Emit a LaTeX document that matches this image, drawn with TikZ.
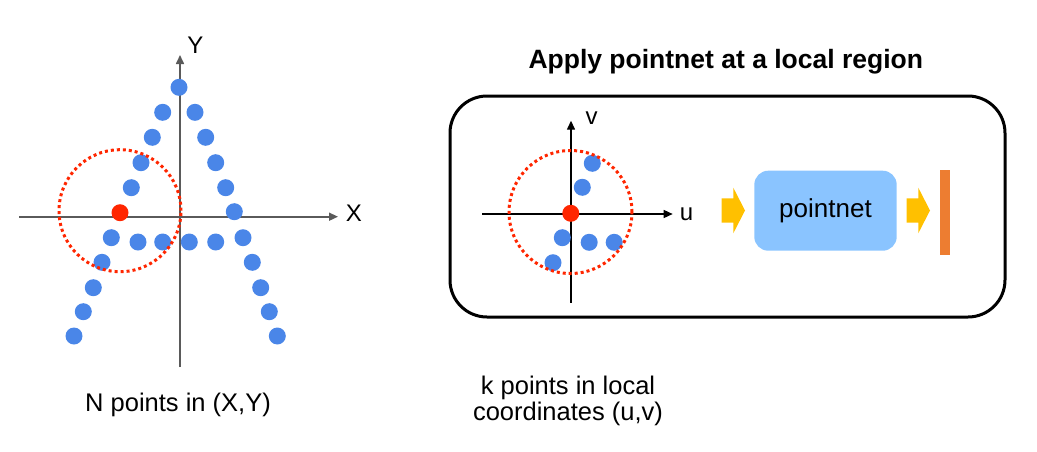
\documentclass[tikz,border=0pt]{standalone}
\usepackage{fontspec}
\setmainfont{Liberation Sans}
\usepackage{xcolor}
\usepackage{tikz}
\usetikzlibrary{arrows.meta, positioning}
\definecolor{ptblue}{HTML}{4A86E8}
\definecolor{ptred}{HTML}{FF2600}
\definecolor{netblue}{HTML}{8AC4FF}
\definecolor{flowyellow}{HTML}{FFC000}
\definecolor{featorange}{HTML}{ED7D31}
\definecolor{axisgray}{HTML}{5A5A5A}

\begin{document}
\begin{tikzpicture}[x=1pt, y=-1pt,
    bdot/.style={circle, fill=ptblue, minimum size=17pt, inner sep=0pt},
    rdot/.style={circle, fill=ptred, minimum size=17pt, inner sep=0pt},
    ring/.style={circle, draw=ptred, line width=3pt, dash pattern=on 3pt off 3pt, inner sep=0pt, outer sep=0pt},
    axis/.style={-{Triangle[length=9pt, width=8pt]}, line width=1.6pt},
    lbl/.style={font=\fontsize{24}{24}\selectfont, inner sep=0pt},
    captxt/.style={font=\fontsize{25.5}{25.7}\selectfont, inner sep=0pt, align=center}
]
    \useasboundingbox (0,0) rectangle (1037,451);

    % global frame (X,Y)
    \coordinate (xl) at (19,216.7);
    \coordinate (xr) at (338,216.7);
    \coordinate (yb) at (180,367);
    \coordinate (yt) at (180,55);
    \draw[axis, color=axisgray] (xl) -- (xr);
    \draw[axis, color=axisgray] (yb) -- (yt);
    \node[lbl] (xlab) at (354,213.3) {X};
    \node[lbl] (ylab) at (195.5,45) {Y};

    \foreach \px/\py [count=\i] in {179/87.3, 162.7/112.3, 195/112.3, 152.3/137.3, 205.7/137.3,
        141/162.7, 215.7/162.7, 131.3/187.7, 225.7/187.7, 234.3/211.7, 111.3/237.7, 138/242,
        162.7/242, 189.3/242, 215.7/242, 243/237.7, 102/262.3, 252.3/262.3, 93.3/287.7,
        260.7/287.7, 83.3/311.7, 269.3/311.7, 74/336, 277.3/336}
        \node[bdot] (g\i) at (\px,\py) {};

    \node[ring, minimum size=122pt] (gring) at (120,210.7) {};
    \node[rdot] (gctr) at (120,212.7) {};

    \node[captxt, anchor=base] (gcap) at (178,411.7) {N points in (X,Y)};

    % local region
    \node[font=\fontsize{26.5}{26.5}\selectfont\bfseries, anchor=base] (title) at (725.8,68.3) {Apply pointnet at a local region};
    \node[draw, line width=3pt, rounded corners=37pt, minimum width=555pt, minimum height=221pt] (region) at (727.5,206.5) {};

    \coordinate (ul) at (482.3,214);
    \coordinate (ur) at (672.7,214);
    \coordinate (vb) at (571,302.7);
    \coordinate (vt) at (571,120.7);
    \draw[axis, line width=1.4pt] (ul) -- (ur);
    \draw[axis, line width=1.4pt] (vb) -- (vt);
    \node[lbl] (ulab) at (686.5,214) {u};
    \node[lbl] (vlab) at (591.5,118.3) {v};

    \foreach \px/\py [count=\i] in {592.3/163.3, 582.3/187.3, 562.3/237.7, 589.2/242.3, 614.2/242.3, 553/262.7}
        \node[bdot] (l\i) at (\px,\py) {};

    \node[ring, minimum size=123pt] (lring) at (570.5,212) {};
    \node[rdot] (lctr) at (570.8,213.3) {};

    \node[captxt, anchor=base] (lcap) at (568,420) {k points in local\\coordinates (u,v)};

    \node[rounded corners=14pt, fill=netblue, minimum width=142.4pt, minimum height=80pt,
        font=\fontsize{26}{26}\selectfont] (net) at (825.5,210.7) {pointnet};
    \node[fill=featorange, minimum width=10pt, minimum height=85pt, inner sep=0pt] (feat) at (945,212.5) {};

    \foreach \ax in {721.7, 906.7}
        \fill[flowyellow] (\ax,198.3) -- ++(11.6,0) -- ++(0,-10.6) -- ++(11.7,22.8)
            -- ++(-11.7,22.8) -- ++(0,-10.6) -- ++(-11.6,0) -- cycle;
\end{tikzpicture}
\end{document}
